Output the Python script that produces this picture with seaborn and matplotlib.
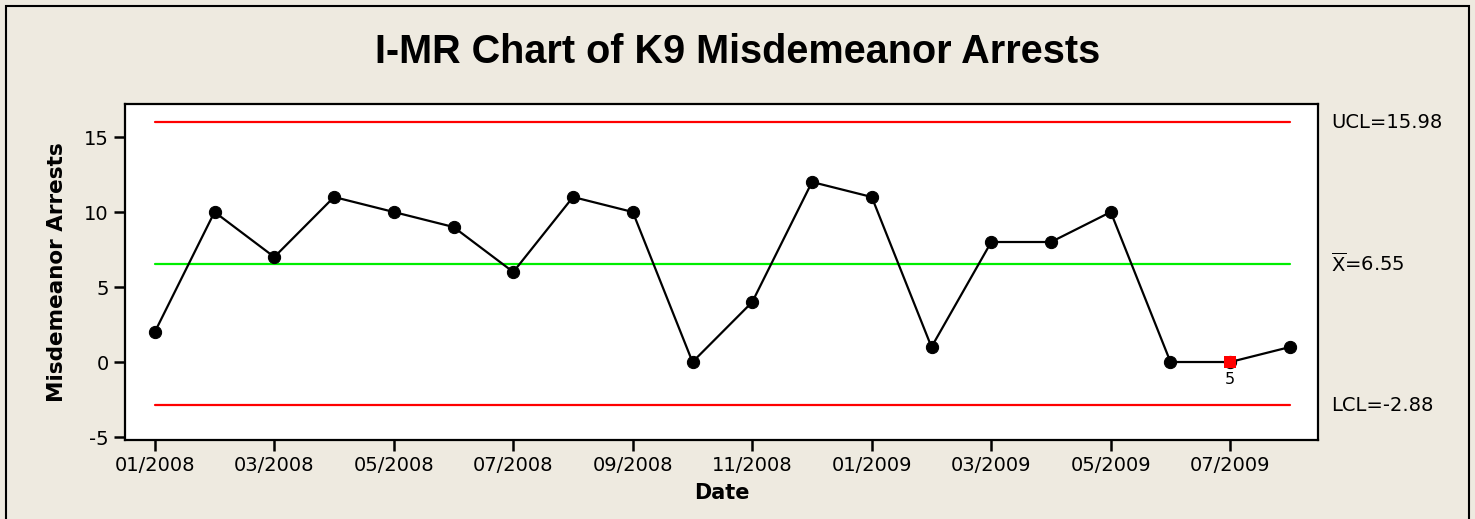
import pandas as pd
import matplotlib
matplotlib.use("Agg")
import matplotlib.pyplot as plt
import seaborn as sns
from matplotlib.patches import Rectangle

# data
months = ["01/2008", "02/2008", "03/2008", "04/2008", "05/2008", "06/2008", "07/2008",
          "08/2008", "09/2008", "10/2008", "11/2008", "12/2008", "01/2009", "02/2009",
          "03/2009", "04/2009", "05/2009", "06/2009", "07/2009", "08/2009"]
arrests = [2, 10, 7, 11, 10, 9, 6, 11, 10, 0, 4, 12, 11, 1, 8, 8, 10, 0, 0, 1]
flagged = ["07/2009"]
flag_test = "5"
ucl = 15.98
center = 6.55
lcl = -2.88
yticks = [-5, 0, 5, 10, 15]

df = pd.DataFrame({"Date": months, "Arrests": arrests})
df["idx"] = range(len(df))
flag_df = df[df["Date"].isin(flagged)]

sns.set_style("white")
plt.rcParams["font.family"] = ["DejaVu Sans"]
plt.rcParams["text.color"] = "black"
plt.rcParams["axes.labelcolor"] = "black"
plt.rcParams["xtick.color"] = "black"
plt.rcParams["ytick.color"] = "black"
plt.rcParams["mathtext.fontset"] = "dejavusans"

bg = "#EEEAE0"
fig = plt.figure(figsize=(14.75, 5.19), dpi=100, facecolor=bg)
ax = fig.add_axes([0.0847, 0.1522, 0.8089, 0.6474])
ax.set_facecolor("white")

# control limits
n = len(df) - 1
ax.plot([0, n], [ucl, ucl], color="red", lw=1.6)
ax.plot([0, n], [lcl, lcl], color="red", lw=1.6)
ax.plot([0, n], [center, center], color="#00EE00", lw=1.6)

sns.lineplot(data=df, x="idx", y="Arrests", ax=ax, color="black", lw=1.6,
             marker="o", markersize=8.8, markeredgecolor="black", zorder=3)
sns.scatterplot(data=flag_df, x="idx", y="Arrests", ax=ax, color="red",
                marker="s", s=75, edgecolor="red", linewidth=0, zorder=4)
for _, r in flag_df.iterrows():
    ax.annotate(flag_test, (r["idx"], r["Arrests"]), xytext=(0, -7.5),
                textcoords="offset points", ha="center", va="top", fontsize=11.5)

ax.set_xlim(-0.5, 19.47)
ax.set_ylim(-5.2, 17.2)
ax.set_xticks(df["idx"][::2])
ax.set_xticklabels(df["Date"][::2], fontsize=14)
ax.set_yticks(yticks)
ax.set_yticklabels([str(v) for v in yticks], fontsize=14)
ax.tick_params(axis="both", direction="out", length=8, width=1.8,
               bottom=True, left=True, pad=3.5)
for s in ax.spines.values():
    s.set_color("black")
    s.set_linewidth(1.6)

ax.set_xlabel("Date", fontsize=15, fontweight="bold", labelpad=6)
ax.set_ylabel("Misdemeanor Arrests", fontsize=15.5, fontweight="bold", labelpad=12)

# limit labels on the right
tr = ax.get_yaxis_transform()
ax.text(1.011, ucl, "UCL=15.98", transform=tr, fontsize=14, va="center", ha="left")
ax.text(1.011, center, r"$\overline{\mathrm{X}}$=6.55", transform=tr, fontsize=14,
        va="center", ha="left")
ax.text(1.011, lcl, "LCL=-2.88", transform=tr, fontsize=14, va="center", ha="left")

fig.text(0.5, 0.9, "I-MR Chart of K9 Misdemeanor Arrests", ha="center", va="center",
         fontsize=28.5, fontweight="bold", family="Liberation Sans")

# outer frame
fig.patches.append(Rectangle((6 / 1475, -0.05), 1463 / 1475, 1 - 6 / 519 + 0.05,
                             transform=fig.transFigure, fill=False,
                             edgecolor="black", lw=1.5))

fig.savefig("out.png", dpi=100, facecolor=bg)
